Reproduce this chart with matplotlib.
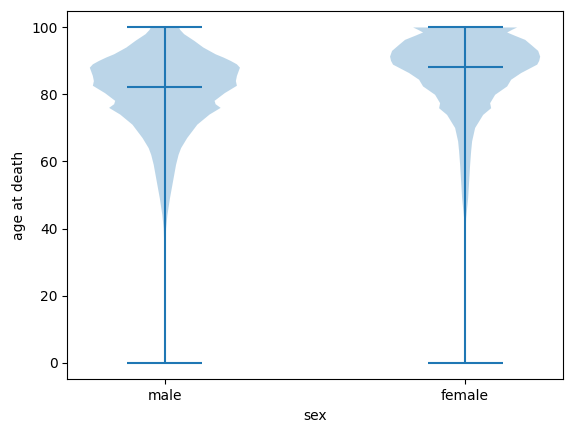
import numpy as np
import matplotlib
matplotlib.use("Agg")
import matplotlib.pyplot as plt

# categories
sexes = ["male", "female"]

# violin outline: age -> relative half width
male_age = [0, 20, 35, 40, 44, 49, 54, 59, 62, 64, 67, 71, 74, 76, 77.1, 78.1, 80.4,
            82.6, 84, 85.5, 88, 89, 90, 91, 92, 94, 96, 97, 98, 99.3, 100]
male_width = [0.2, 0.3, 0.6, 1.2, 2.5, 5, 8, 11, 13.5, 16, 22, 32, 44, 55, 50, 49, 59,
              71, 70, 71, 74, 71, 65, 58, 50, 38, 29, 24, 19, 15, 14]

female_age = [0, 20, 35, 43, 49, 59, 63, 66, 70, 73.9, 75.9, 77.4, 79.9, 82.4, 84.4,
              86.4, 88.9, 90, 91.3, 93, 94.8, 96.3, 97.5, 98.5, 99.3, 100]
female_width = [0.1, 0.2, 0.3, 1, 3, 5, 6, 7, 10, 18, 26, 25, 30, 42, 46,
                56, 72, 74, 75, 73, 66, 60, 50, 42, 47, 52]

# summary stats
medians = [82.3, 88.3]
means = [79.5, 85.5]
mins = [0, 0]
maxs = [100, 100]

vpstats = []
for ages, widths, i in [(male_age, male_width, 0), (female_age, female_width, 1)]:
    vpstats.append({
        "coords": np.array(ages, dtype=float),
        "vals": np.array(widths, dtype=float),
        "mean": means[i],
        "median": medians[i],
        "min": mins[i],
        "max": maxs[i],
    })

fig = plt.figure(figsize=(5.72, 4.33), dpi=100)
ax = fig.add_axes([67.3 / 572, (433 - 379.3) / 433, 495.4 / 572, 368.6 / 433])
ax.violin(vpstats, positions=[1, 2], widths=0.5, showmeans=False,
          showextrema=True, showmedians=True)
ax.set_xticks([1, 2])
ax.set_xticklabels(sexes)
ax.set_xlabel("sex")
ax.set_ylabel("age at death")
fig.savefig("out.png", dpi=100)
